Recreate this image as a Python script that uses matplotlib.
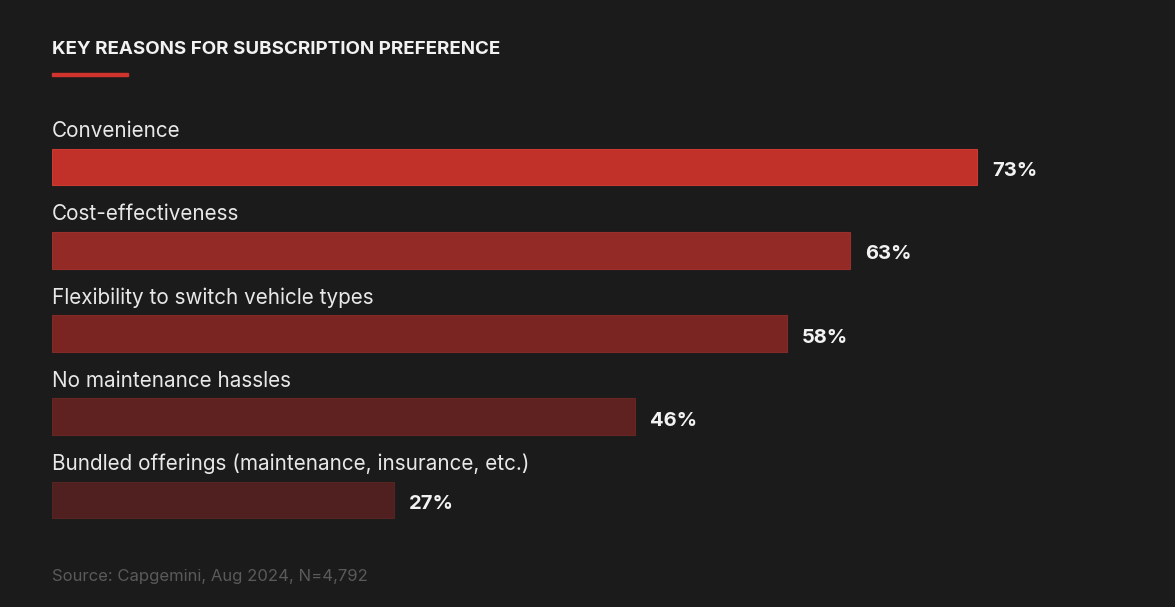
import matplotlib.pyplot as plt
from matplotlib.patches import Rectangle

plt.rcParams['font.family'] = ['Inter', 'DejaVu Sans']

reasons = ["Convenience", "Cost-effectiveness", "Flexibility to switch vehicle types",
           "No maintenance hassles", "Bundled offerings (maintenance, insurance, etc.)"]
shares = [73, 63, 58, 46, 27]
colors = ["#c2302a", "#932a26", "#7b2522", "#5f2220", "#4f201f"]
edges = ["#c93a33", "#9a2f2b", "#822a27", "#652624", "#552524"]

BG = "#1b1b1b"
W, H = 1175, 607
fig = plt.figure(figsize=(W / 100, H / 100), dpi=100, facecolor=BG)

# axes from x=52px to right edge; 12.67 px per percent
px_per = 925 / 73
ax = fig.add_axes([52 / W, 0, 1 - 52 / W, 1])
ax.set_facecolor(BG)
ax.set_xlim(0, (W - 52) / px_per)
step = 83.25
ax.set_ylim((H - 167) / step, -167 / step)
ax.axis("off")

for i, (name, v) in enumerate(zip(reasons, shares)):
    ax.barh(i, v, height=0.444, color=colors[i], edgecolor=edges[i], linewidth=0.8)
    ax.text(0, i - 0.43, name, color="#e8e8e8", fontsize=14.9, va="center", ha="left")
    ax.text(v + 1.2, i + 0.05, f"{v}%", color="#f2f2f2", fontsize=14.5,
            fontweight="bold", va="center", ha="left")

fig.text(52 / W, 1 - 49 / H, "KEY REASONS FOR SUBSCRIPTION PREFERENCE", color="#f2f2f2",
         fontsize=13.5, fontweight="bold", va="center", ha="left")
fig.patches.append(Rectangle((52 / W, 1 - 76 / H), 76 / W, 3 / H, transform=fig.transFigure,
                             color="#d0342c"))
fig.text(52 / W, 1 - 576 / H, "Source: Capgemini, Aug 2024, N=4,792", color="#5a5a5a",
         fontsize=12, va="center", ha="left")

fig.savefig("out.png", dpi=100, facecolor=BG)
